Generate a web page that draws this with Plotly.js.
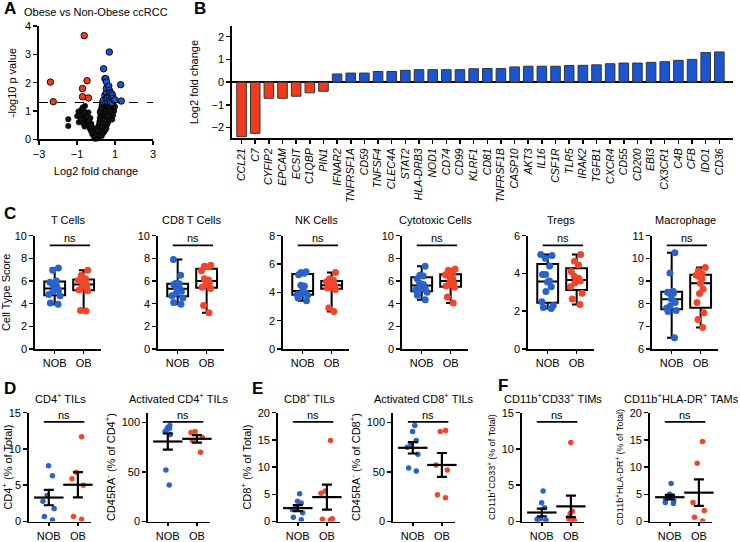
<!DOCTYPE html>
<html><head><meta charset="utf-8">
<script src="https://cdn.plot.ly/plotly-3.0.1.min.js"></script>
<style>html,body{margin:0;padding:0;background:#fff}#chart{width:740px;height:542px}</style>
</head><body><div id="chart"></div>
<script>
// ---------------- DATA ----------------
// Panel B genes (ordered) and log2 fold change
const genes = ['CCL21','C7','CYFIP2','EPCAM','ECSIT','C1QBP','PIN1','IFNAR2','TNFRSF1A','CD59','TNFSF4','CLEC4A','STAT2','HLA-DRB3','NOD1','CD74','CD99','KLRF1','CD81','TNFRSF1B','CASP10','AKT3','IL16','CSF1R','TLR5','IRAK2','TGFB1','CXCR4','CD55','CD200','EBI3','CX3CR1','C4B','CFB','IDO1','CD36'];
const geneLog2FC = [-2.4,-2.25,-0.71,-0.71,-0.62,-0.47,-0.40,0.36,0.40,0.40,0.47,0.47,0.52,0.55,0.55,0.55,0.55,0.59,0.60,0.60,0.67,0.70,0.70,0.70,0.73,0.74,0.76,0.81,0.84,0.84,0.87,0.90,0.96,1.00,1.30,1.33];
// Panel A: -log10 p of the significant genes above
const geneNegLog10P = [2.02,1.33,1.79,1.50,3.66,2.07,1.46,1.33,2.49,1.39,2.14,1.56,2.14,2.02,1.41,1.65,1.80,1.50,1.35,1.45,1.88,3.08,1.50,1.74,1.65,1.39,1.32,1.62,1.30,1.45,1.56,1.45,1.38,1.39,1.93,1.35];
// Panel A: non-significant genes
const nsLog2FC = [-0.05,0.0,0.05,-0.1,0.1,0.02,-0.15,0.15,0.08,-0.2,0.2,-0.25,0.25,0.12,-0.3,0.3,0.18,-0.35,0.35,0.22,-0.4,0.4,0.28,-0.45,0.45,0.32,-0.5,0.5,0.25,-0.55,0.55,0.3,-0.6,0.6,0.35,-0.65,0.65,0.28,0.4,-0.7,0.7,0.3,0.45,0.75,0.35,0.5,0.8,0.4,0.55,0.85,0.3,0.45,0.6,0.35,0.9,
 0.2,0.2,0.25,0.22,0.5,0.45,0.6,0.7,0.15,0.38,0.42,0.52,0.58,0.62,0.48,0.55,0.65,0.75,0.8,0.33,0.4,0.3,-0.2,-0.3,-0.35,-0.45,-0.5,-0.55,-0.4,-0.3,-0.25,-0.15,-0.1,
 -0.92,-0.58,-1.46,-1.46,-0.99,-0.9,-0.8,-0.75,-0.85,-0.65,-0.6,0.95,1.0,0.85,0.9,0.12,0.18,0.26,0.34,0.42,0.5,0.58,0.66,0.16,0.24,0.36,0.44,0.52,0.6,0.68,0.2,0.28,0.37,0.47,0.56,
 0.06,0.1,0.14,-0.03,-0.08,0.22,0.3,0.38,0.46,0.54,0.26,0.34,0.42,0.5,0.6,0.7,0.78,0.14,0.2,0.32,0.44,0.64,0.72,-0.18,-0.28,-0.38,-0.48,-0.62,-0.7,-0.05,0.1];
const nsNegLog10P = [0.02,0.05,0.03,0.08,0.1,0.12,0.15,0.15,0.2,0.2,0.22,0.28,0.3,0.28,0.35,0.35,0.38,0.42,0.42,0.45,0.5,0.5,0.52,0.55,0.58,0.6,0.62,0.65,0.65,0.7,0.72,0.72,0.78,0.8,0.8,0.85,0.88,0.88,0.9,0.92,0.95,0.95,1.0,1.02,1.05,1.08,1.1,1.12,1.15,1.18,1.2,1.22,1.25,1.28,1.25,
 0.55,0.75,0.85,1.0,0.4,0.3,0.55,0.7,0.5,0.7,0.78,0.85,0.95,1.05,0.5,0.48,0.62,0.8,0.9,0.35,0.25,0.2,0.35,0.45,0.6,0.7,0.8,0.9,0.95,0.75,0.55,0.4,0.25,
 0.98,1.18,0.71,0.47,0.82,0.6,0.7,1.05,0.85,0.55,0.45,1.0,1.15,0.7,0.85,0.45,0.62,0.4,0.55,0.65,0.75,0.68,0.9,0.3,0.7,0.9,0.6,0.95,0.75,1.1,0.95,1.1,0.65,0.85,1.0,
 0.06,0.18,0.24,0.05,0.12,0.14,0.12,0.22,0.3,0.38,0.4,0.48,0.56,0.62,0.72,0.86,0.96,0.32,0.42,0.58,0.68,0.82,1.0,0.28,0.52,0.66,0.82,0.98,1.12,0.15,0.32];

// Panel C: cell type scores
const groups = ['NOB','OB'];
const tCellsNOB = [3.95,4.05,4.7,4.8,5.05,5.2,5.35,5.55,5.7,5.9,6.0,6.95,7.15];
const tCellsOB  = [6.95,6.5,6.2,6.05,5.95,5.8,5.7,5.6,5.45,5.2,5.15,3.4,3.35];
const cd8NOB = [7.9,6.5,5.8,5.75,5.7,5.5,5.35,5.3,5.1,4.9,4.7,4.5,4.1,3.95];
const cd8OB  = [7.4,7.3,7.25,6.9,6.2,6.1,6.0,5.85,5.65,5.45,5.35,3.85,3.2];
const nkNOB = [5.45,5.4,5.35,5.25,4.5,4.45,4.1,3.95,3.9,3.85,3.8,3.6,3.4];
const nkOB  = [5.4,4.95,4.85,4.75,4.65,4.55,4.5,4.45,4.35,4.3,4.2,2.9,2.65];
const cytoNOB = [7.3,6.5,6.45,6.2,5.8,5.7,5.6,5.35,5.3,5.2,5.0,4.75,4.35];
const cytoOB  = [7.05,6.95,6.65,6.55,6.45,6.2,6.0,5.8,5.7,5.55,5.45,4.6,4.05];
const tregNOB = [5.0,4.95,4.8,4.4,3.95,3.95,3.6,3.55,3.3,3.05,2.5,2.3,2.2,2.15];
const tregOB  = [5.0,4.65,4.45,4.1,3.85,3.75,3.65,3.6,3.5,3.3,2.95,2.65,2.35];
const macNOB = [10.25,9.35,8.55,8.5,8.45,8.45,8.2,8.05,7.9,7.8,7.7,7.65,6.5];
const macOB  = [9.6,9.45,9.3,9.25,9.2,9.1,8.9,8.65,8.45,8.05,7.6,7.3,6.95];

// Panels D-F: flow cytometry
const cd4TilNOB = [7.7,6.3,3.6,2.8,1.8,0.7,0.2];
const cd4TilOB  = [11.7,6.8,5.9,5.0,0.7,0.3];
const actCd4NOB = [97,95,94,93,91,88,52,37];
const actCd4OB  = [91,90,85,82,70];
const cd8TilNOB = [5.1,3.7,3.4,2.6,2.2,1.6,0.8,0.3];
const cd8TilOB  = [14.9,5.6,5.2,0.5,0.4,0.3];
const actCd8NOB = [97,91,82,78,75,68,54,51];
const actCd8OB  = [92,91,57,52,27,24];
const timNOB = [4.2,2.6,1.9,0.4,0.3,0.2,0.2,0.1];
const timOB  = [10.9,1.4,1.1,0.6,0.3,0.2,0.1];
const tamNOB = [7.0,5.0,4.7,4.4,4.0,3.8,3.5,3.3];
const tamOB  = [14.7,10.7,3.5,2.0,0.8,0.1];

// ---------------- HELPERS ----------------
const W = 740, H = 542;
const fx = px => px / W;
const fy = px => 1 - px / H;
const RED = '#f23b1c', BLUE = '#1c55d2';
const PT_RED = '#f2462a', PT_BLUE = '#2a62cc';
const FONT = 'Liberation Sans, Arial, Helvetica, sans-serif';

const layout = {
  width: W, height: H, margin: {l:0, r:0, t:0, b:0}, showlegend: false,
  paper_bgcolor: '#fff', plot_bgcolor: 'rgba(0,0,0,0)',
  font: {family: FONT, size: 11, color: '#000'},
  boxmode: 'overlay', annotations: [], shapes: []
};
const traces = [];
let nAx = 0;
function baseAxis(extra) {
  return Object.assign({
    showline: true, linewidth: 1.8, linecolor: '#000', mirror: false,
    ticks: 'outside', ticklen: 4, tickwidth: 1.5, tickcolor: '#000',
    showgrid: false, zeroline: false, fixedrange: true,
    tickfont: {size: 11, family: FONT, color: '#000'}
  }, extra || {});
}
function newAxes(xpx, ypx, xo, yo) {
  nAx++;
  const s = nAx === 1 ? '' : String(nAx);
  layout['xaxis' + s] = baseAxis(Object.assign({domain: [fx(xpx[0]), fx(xpx[1])], anchor: 'y' + s}, xo));
  layout['yaxis' + s] = baseAxis(Object.assign({domain: [fy(ypx[1]), fy(ypx[0])], anchor: 'x' + s}, yo));
  return {x: 'x' + s, y: 'y' + s};
}
function ytitle(text, standoff, size) { return {text: text, font: {size: size || 11, family: FONT}, standoff: standoff}; }
function letter(t, x, y) {
  layout.annotations.push({text: '<b>' + t + '</b>', x: fx(x), y: fy(y), xref: 'paper', yref: 'paper',
    xanchor: 'left', yanchor: 'middle', showarrow: false, font: {size: 17, family: FONT}});
}
function subTitle(text, ax, ypx) {
  layout.annotations.push({text: text, xref: ax.x + ' domain', x: 0.5, yref: 'paper', y: fy(ypx),
    xanchor: 'center', yanchor: 'middle', showarrow: false, font: {size: 11, family: FONT}});
}
function nsBracket(ax) {
  layout.shapes.push({type: 'line', xref: ax.x, yref: ax.y + ' domain', x0: -0.17, x1: 1.22, y0: 0.915, y1: 0.915,
    line: {color: '#000', width: 1.8}});
  layout.annotations.push({text: 'ns', xref: ax.x, yref: ax.y + ' domain', x: 0.52, y: 0.905,
    xanchor: 'center', yanchor: 'bottom', showarrow: false, font: {size: 11, family: FONT}});
}
function qExcl(a, p) {
  const s = a.slice().sort((u, v) => u - v), n = s.length;
  const pos = (n + 1) * p;
  if (pos <= 1) return s[0];
  if (pos >= n) return s[n - 1];
  const lo = Math.floor(pos), f = pos - lo;
  return s[lo - 1] + f * (s[lo] - s[lo - 1]);
}
function meanSem(a) {
  const n = a.length, m = a.reduce((s, v) => s + v, 0) / n;
  const sd = Math.sqrt(a.reduce((s, v) => s + (v - m) * (v - m), 0) / (n - 1));
  return [m, sd / Math.sqrt(n)];
}
const catAxis = (range) => ({range: range, tickvals: [0, 1], ticktext: groups, type: 'linear', ticklen: 3});

// ---------------- PANEL A: volcano ----------------
const axA = newAxes([39, 153], [26, 139.3],
  {range: [-3, 3], tickvals: [-3, -1, 1, 3], title: {text: 'Log2 fold change', font: {size: 11}, standoff: 8}},
  {range: [0, 4], dtick: 1, title: ytitle('-log10 p value', 6)});
traces.push({type: 'scatter', mode: 'markers', x: nsLog2FC, y: nsNegLog10P, xaxis: axA.x, yaxis: axA.y,
  marker: {size: 5.5, color: '#111', line: {width: 0.5, color: '#000'}}, cliponaxis: false, hoverinfo: 'skip'});
traces.push({type: 'scatter', mode: 'markers', x: geneLog2FC, y: geneNegLog10P, xaxis: axA.x, yaxis: axA.y,
  marker: {size: 6.5, color: geneLog2FC.map(v => v < 0 ? RED : BLUE), line: {width: 0.9, color: '#000'}}, cliponaxis: false});
layout.shapes.push({type: 'line', xref: axA.x, yref: axA.y, x0: -3, x1: 3, y0: 1.3, y1: 1.3, line: {color: '#000', width: 1.2, dash: 'dash'}});
layout.annotations.push({text: 'Obese vs Non-Obese ccRCC', xref: 'paper', yref: 'paper', x: fx(96), y: fy(12),
  xanchor: 'center', yanchor: 'middle', showarrow: false, font: {size: 11}});
letter('A', 2, 9);

// ---------------- PANEL B: bars ----------------
const axB = newAxes([232, 733], [26, 138.3],
  {type: 'category', range: [-0.7, 36.0], tickvals: genes, ticktext: genes.map(g => '<i>' + g + '</i>'),
   tickangle: -90, tickfont: {size: 10.5, family: FONT}},
  {range: [-2.47, 2.47], tickvals: [-2, -1, 0, 1, 2], zeroline: true, zerolinecolor: '#000', zerolinewidth: 1.8,
   title: ytitle('Log2 fold change', 10)});
traces.push({type: 'bar', x: genes, y: geneLog2FC, xaxis: axB.x, yaxis: axB.y, width: 0.7,
  marker: {color: geneLog2FC.map(v => v < 0 ? RED : BLUE), line: {color: '#333', width: 1}}});
letter('B', 192, 9);

// ---------------- PANEL C: box plots ----------------
const cPanels = [
  {title: 'T Cells', nob: tCellsNOB, ob: tCellsOB, range: [0, 10], dtick: 2},
  {title: 'CD8 T Cells', nob: cd8NOB, ob: cd8OB, range: [0, 10], dtick: 2},
  {title: 'NK Cells', nob: nkNOB, ob: nkOB, range: [0, 8], dtick: 2},
  {title: 'Cytotoxic Cells', nob: cytoNOB, ob: cytoOB, range: [0, 10], dtick: 2},
  {title: 'Tregs', nob: tregNOB, ob: tregOB, range: [0, 6], dtick: 2},
  {title: 'Macrophage', nob: macNOB, ob: macOB, range: [6, 11], dtick: 1}
];
const cLeft = [35, 158, 283, 402, 528, 652];
cPanels.forEach((p, i) => {
  const ax = newAxes([cLeft[i], cLeft[i] + 66], [235.7, 349], catAxis([-0.68, 1.6]),
    {range: p.range, dtick: p.dtick, title: i === 0 ? ytitle('Cell Type Score', 6) : undefined});
  [p.nob, p.ob].forEach((d, g) => {
    traces.push({type: 'box', x: [g], q1: [qExcl(d, 0.25)], median: [qExcl(d, 0.5)], q3: [qExcl(d, 0.75)],
      lowerfence: [Math.min(...d)], upperfence: [Math.max(...d)], xaxis: ax.x, yaxis: ax.y,
      width: 0.72, whiskerwidth: 0.45, boxpoints: false, line: {color: '#000', width: 2}, fillcolor: 'rgba(255,255,255,0)'});
    traces.push({type: 'box', y: d, x0: g, xaxis: ax.x, yaxis: ax.y, width: 0.72, boxpoints: 'all', jitter: 0.7, pointpos: 0,
      line: {color: 'rgba(0,0,0,0)', width: 0}, fillcolor: 'rgba(0,0,0,0)', whiskerwidth: 0,
      marker: {size: 7, color: g === 0 ? PT_BLUE : PT_RED, line: {width: 0}}, hoveron: 'points'});
  });
  nsBracket(ax);
  subTitle(p.title, ax, 220);
});
letter('C', 2, 213);

// ---------------- PANELS D-F: mean ± SEM ----------------
const dPanels = [
  {title: 'CD4<sup>+</sup> TILs', yt: 'CD4<sup>+</sup> (% of Total)', nob: cd4TilNOB, ob: cd4TilOB, range: [0, 15], dtick: 5},
  {title: 'Activated CD4<sup>+</sup> TILs', yt: 'CD45RA<sup>-</sup> (% of CD4<sup>+</sup>)', nob: actCd4NOB, ob: actCd4OB, range: [0, 110], tickvals: [0, 50, 100]},
  {title: 'CD8<sup>+</sup> TILs', yt: 'CD8<sup>+</sup> (% of Total)', nob: cd8TilNOB, ob: cd8TilOB, range: [0, 20], dtick: 5},
  {title: 'Activated CD8<sup>+</sup> TILs', yt: 'CD45RA<sup>-</sup> (% of CD8<sup>+</sup>)', nob: actCd8NOB, ob: actCd8OB, range: [0, 110], tickvals: [0, 50, 100]},
  {title: 'CD11b<sup>+</sup>CD33<sup>+</sup> TIMs', yt: 'CD11b<sup>+</sup>CD33<sup>+</sup> (% of Total)', nob: timNOB, ob: timOB, range: [0, 15], dtick: 5, ts: 9},
  {title: 'CD11b<sup>+</sup>HLA-DR<sup>+</sup> TAMs', yt: 'CD11b<sup>+</sup>HLA-DR<sup>+</sup> (% of Total)', nob: tamNOB, ob: tamOB, range: [0, 20], dtick: 5, ts: 9}
];
const dLeft = [29, 148, 278, 393, 522, 650];
dPanels.forEach((p, i) => {
  const yo = {range: p.range, title: ytitle(p.yt, 4, p.ts)};
  if (p.tickvals) yo.tickvals = p.tickvals; else yo.dtick = p.dtick;
  const ax = newAxes([dLeft[i], dLeft[i] + 62], [412.7, 521.5], catAxis([-0.68, 1.45]), yo);
  const stats = [meanSem(p.nob), meanSem(p.ob)];
  [p.nob, p.ob].forEach((d, g) => {
    traces.push({type: 'box', y: d, x0: g, xaxis: ax.x, yaxis: ax.y, width: 0.6, boxpoints: 'all', jitter: 0.8, pointpos: 0,
      line: {color: 'rgba(0,0,0,0)', width: 0}, fillcolor: 'rgba(0,0,0,0)', whiskerwidth: 0,
      marker: {size: 5.5, color: g === 0 ? PT_BLUE : PT_RED, line: {width: 0}}, hoveron: 'points'});
  });
  traces.push({type: 'scatter', mode: 'markers', x: [0, 1], y: stats.map(s => s[0]), xaxis: ax.x, yaxis: ax.y,
    marker: {symbol: 'line-ew', size: 21, color: '#000', line: {width: 2.2, color: '#000'}},
    error_y: {type: 'data', array: stats.map(s => s[1]), width: 5, thickness: 2.2, color: '#000'}, cliponaxis: false});
  nsBracket(ax);
  subTitle(p.title, ax, 398);
});
letter('D', 2, 388);
letter('E', 250, 388);
letter('F', 496, 385);

Plotly.newPlot('chart', traces, layout, {staticPlot: true, displayModeBar: false});
</script>
</body></html>
